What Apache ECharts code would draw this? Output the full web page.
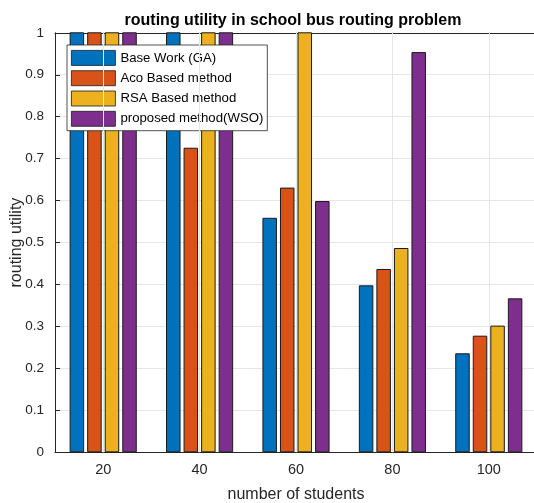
<!DOCTYPE html>
<html>
<head>
<meta charset="utf-8">
<script src="https://cdn.jsdelivr.net/npm/echarts@6/dist/echarts.min.js"></script>
<style>html,body{margin:0;padding:0;background:#fff}#c{width:534px;height:503px}</style>
</head>
<body>
<div id="c"></div>
<script>
const categories = ['20', '40', '60', '80', '100'];
const seriesNames = ['Base Work (GA)', 'Aco Based method', 'RSA Based method', 'proposed method(WSO)'];
const gaValues  = [1.10, 1.05, 0.559, 0.398, 0.236];
const acoValues = [1.08, 0.726, 0.631, 0.437, 0.278];
const rsaValues = [1.12, 1.06, 1.02, 0.487, 0.302];
const wsoValues = [1.15, 1.10, 0.599, 0.954, 0.367];
const yTicks = [0, 0.1, 0.2, 0.3, 0.4, 0.5, 0.6, 0.7, 0.8, 0.9, 1];
const colors = ['#0072BD', '#D95319', '#EDB120', '#7E2F8E'];

const allValues = [gaValues, acoValues, rsaValues, wsoValues];
const font = 'Liberation Sans, Arial, Helvetica, sans-serif';
const axisColor = '#262626';
const gridColor = '#e6e6e6';

const chart = echarts.init(document.getElementById('c'), null, {renderer: 'canvas'});
const barSeries = allValues.map((vals, i) => ({
  name: seriesNames[i], type: 'bar', data: vals, xAxisIndex: 0,
  barWidth: 14.5, barGap: '21%', clip: true,
  itemStyle: {color: colors[i], borderColor: '#1a1a1a', borderWidth: 1},
  z: 3
}));
// vertical grid lines at category centres
barSeries.push({
  name: 'xgrid', type: 'line', data: [], xAxisIndex: 0, z: 1, silent: true,
  markLine: {
    silent: true, symbol: 'none', animation: false,
    label: {show: false},
    lineStyle: {color: gridColor, width: 1, type: 'solid'},
    data: categories.map(c => ({xAxis: c}))
  }
});

chart.setOption({
  animation: false,
  backgroundColor: '#fff',
  title: {
    text: 'routing utility in school bus routing problem',
    left: 288, top: 8, textAlign: 'center',
    textStyle: {fontFamily: font, fontSize: 16, fontWeight: 'bold', color: '#000'}
  },
  legend: {
    orient: 'vertical', left: 67, top: 45,
    itemWidth: 44, itemHeight: 15, itemGap: 4.5,
    padding: [5, 4, 4, 4],
    backgroundColor: '#fff', borderColor: '#262626', borderWidth: 0.8,
    textStyle: {fontFamily: font, fontSize: 13.2, color: '#000'},
    itemStyle: {borderWidth: 0.8},
    data: seriesNames,
    icon: 'rect'
  },
  grid: {left: 55, top: 32.8, width: 482, height: 419.5, containLabel: false, outerBoundsMode: 'none'},
  xAxis: [{
    type: 'category', data: categories, position: 'bottom',
    axisLine: {show: true, lineStyle: {color: axisColor, width: 1}},
    axisTick: {show: true, inside: true, length: 5, alignWithLabel: true, lineStyle: {color: axisColor}},
    axisLabel: {fontFamily: font, fontSize: 14.5, color: axisColor, margin: 10},
    splitLine: {show: false},
    name: 'number of students', nameLocation: 'middle', nameGap: 34, nameMoveOverlap: false,
    nameTextStyle: {fontFamily: font, fontSize: 16, color: axisColor}
  }, {
    type: 'category', data: categories, position: 'top',
    axisLine: {show: true, lineStyle: {color: axisColor, width: 1}},
    axisTick: {show: true, inside: true, length: 5, alignWithLabel: true, lineStyle: {color: axisColor}},
    axisLabel: {show: false}, splitLine: {show: false}
  }],
  yAxis: {
    type: 'value', min: 0, max: 1, interval: 0.1,
    axisLine: {show: true, lineStyle: {color: axisColor, width: 1}},
    axisTick: {show: true, inside: true, length: 5, lineStyle: {color: axisColor}},
    axisLabel: {fontFamily: font, fontSize: 13.5, color: axisColor, margin: 11,
      formatter: v => { const t = yTicks.find(x => Math.abs(x - v) < 1e-9); return t === undefined ? '' : String(t); }},
    splitLine: {show: true, lineStyle: {color: gridColor, width: 1}},
    name: 'routing utility', nameLocation: 'middle', nameGap: 30, nameMoveOverlap: false,
    nameTextStyle: {fontFamily: font, fontSize: 16, color: axisColor}
  },
  series: barSeries
});
</script>
</body>
</html>
